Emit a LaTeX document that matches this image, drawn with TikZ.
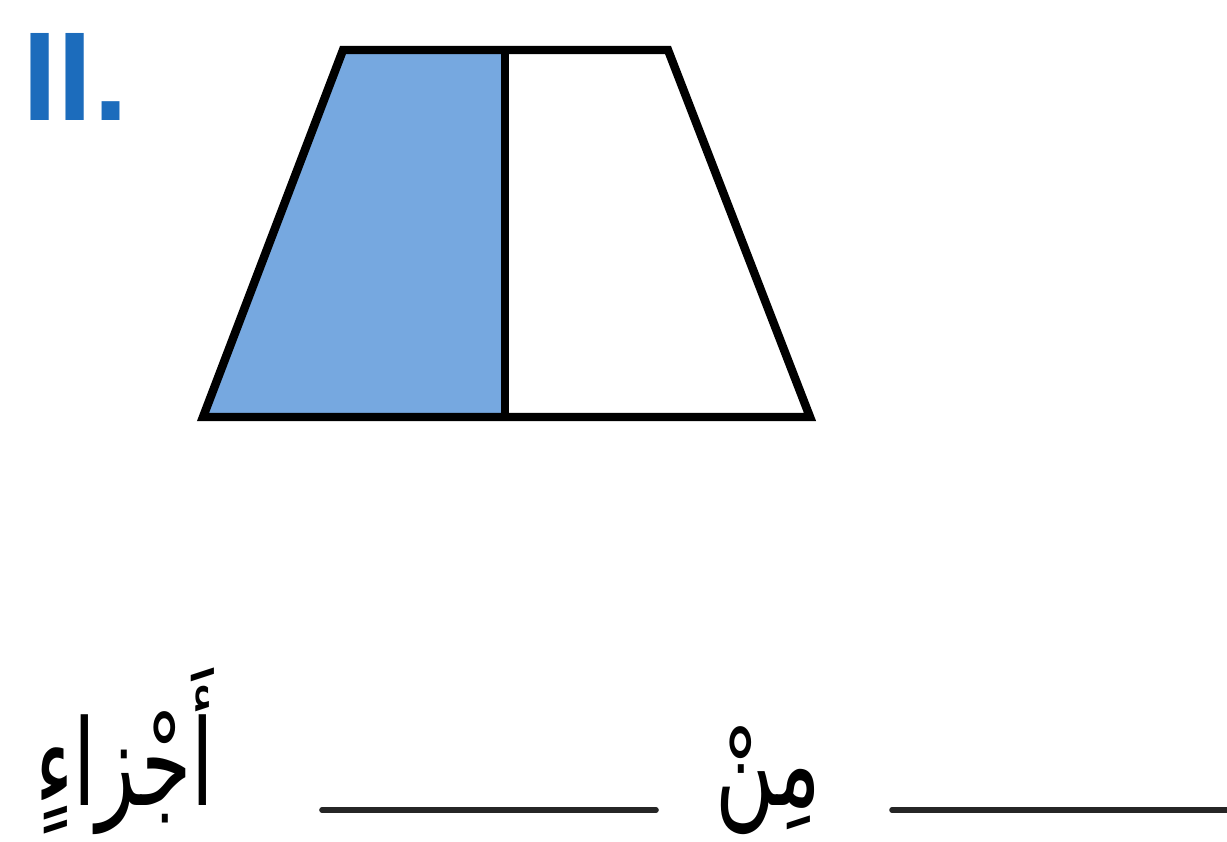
\documentclass[tikz,border=0pt]{standalone}
\usepackage{fontspec}
\setmainfont{Liberation Sans}
\newfontfamily\arabicfont[Script=Arabic]{DejaVu Sans}
\TeXXeTstate=1
\usepackage{tikz}
\definecolor{numblue}{RGB}{28,108,188}
\definecolor{partblue}{RGB}{118,168,224}

\begin{document}
\begin{tikzpicture}[
        x=0.1mm, y=-0.1mm,
        edge/.style={draw=black, line width=2.4pt, line join=miter},
        shaded/.style={fill=partblue},
        blank/.style={draw=black!85, line width=1.6pt, line cap=round},
        word/.style={font=\arabicfont\fontsize{34}{40}\selectfont, inner sep=0pt, anchor=base west, xscale=0.68, transform shape},
        tag/.style={font=\bfseries\fontsize{36}{42}\selectfont, text=numblue, inner sep=0pt, anchor=base west}
    ]
        \useasboundingbox (0,0) rectangle (1227,841);

        % Nomor soal
        \node[tag] (num) at (22,120) {II.};

        % Titik sudut trapesium
        \coordinate (A) at (203,417);
        \coordinate (B) at (810,417);
        \coordinate (C) at (668,50);
        \coordinate (D) at (343,50);
        \coordinate (M1) at (505,417);
        \coordinate (M2) at (505,50);

        % Bagian kiri diarsir biru
        \fill[shaded] (A) -- (M1) -- (M2) -- (D) -- cycle;

        % Garis tepi dan garis pembagi
        \draw[edge] (A) -- (B) -- (C) -- (D) -- cycle;
        \draw[edge] (M1) -- (M2);

        % Kalimat isian (dibaca dari kanan)
        \node[word] (parts) at (35,805) {\beginR أَجْزاءٍ\endR};
        \node[word] (of) at (715,805) {\beginR مِنْ\endR};

        \coordinate (L1) at (322,810);
        \coordinate (L2) at (656,810);
        \coordinate (R1) at (892,810);
        \coordinate (R2) at (1227,810);
        \draw[blank] (L1) -- (L2);
        \draw[blank] (R1) -- (R2);

    \end{tikzpicture}
\end{document}
